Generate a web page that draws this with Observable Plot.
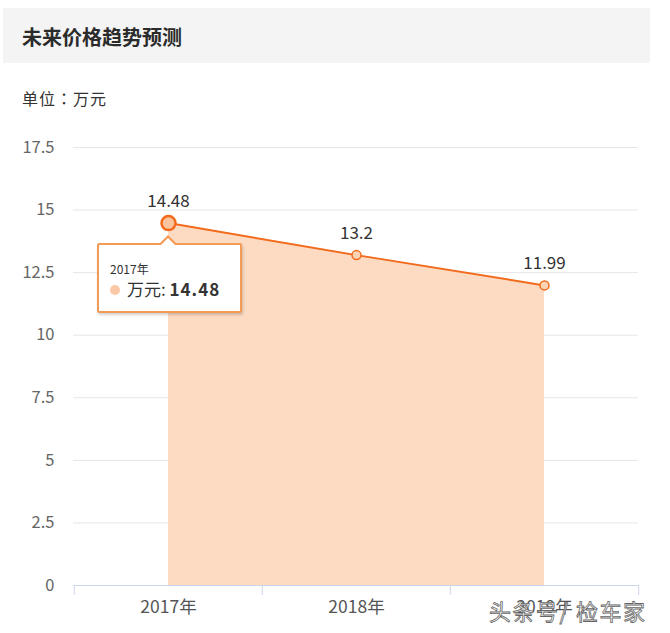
<!DOCTYPE html>
<html>
<head>
<meta charset="utf-8">
<script src="https://cdn.jsdelivr.net/npm/d3@7"></script>
<script src="https://cdn.jsdelivr.net/npm/@observablehq/plot@0.6"></script>
<style>
  html, body { margin: 0; padding: 0; background: #fff; }
  body { width: 670px; height: 633px; overflow: hidden; font-family: "Noto Sans CJK SC", "Noto Sans", sans-serif; }
  #wrap { position: relative; width: 670px; height: 633px; }
  #titlebar { position: absolute; left: 3px; top: 8px; width: 647px; height: 55px; background: #f4f4f4; }
  #title { position: absolute; left: 22px; top: 23px; font-size: 20px; font-weight: bold; color: #2b2b2b; line-height: 28px; }
  #unit { position: absolute; left: 22px; top: 86px; font-size: 16px; color: #333; line-height: 24px; white-space: pre; font-family: "Noto Sans CJK TC", "Noto Sans CJK SC", sans-serif; letter-spacing: 1px; }
  #chart { position: absolute; left: 0; top: 120px; }
  #tip { position: absolute; background: #fff; border: 2px solid #f39a55; border-radius: 2px; box-shadow: 1px 2px 3px rgba(0,0,0,0.18); width: 145px; height: 70px; box-sizing: border-box; }
  #tip .arrow { position: absolute; top: -10px; width: 0; height: 0; border-left: 9px solid transparent; border-right: 9px solid transparent; border-bottom: 9px solid #f39a55; }
  #tip .arrow2 { position: absolute; top: -7px; width: 0; height: 0; border-left: 7px solid transparent; border-right: 7px solid transparent; border-bottom: 7px solid #fff; }
  #tip .cat { position: absolute; left: 11px; top: 16px; font-size: 12px; color: #333; line-height: 16px; }
  #tip .row { position: absolute; left: 11px; top: 33px; font-size: 17px; color: #333; white-space: nowrap; line-height: 22px; }
  #tip .row b { letter-spacing: 1px; }
  #tip .dot { display: inline-block; width: 10px; height: 10px; border-radius: 5px; background: #fbc7a5; margin-right: 7px; vertical-align: 1px; }
  #watermark { position: absolute; left: 489px; top: 595px; font-size: 22px; color: #fff; -webkit-text-stroke: 0.8px #666; letter-spacing: 1.5px; white-space: nowrap; line-height: 30px; }
</style>
</head>
<body>
<div id="wrap">
  <div id="titlebar"></div>
  <div id="title">未来价格趋势预测</div>
  <div id="unit">单位：万元</div>
  <div id="chart"></div>
</div>
<script>
const years = ["2017年", "2018年", "2019年"];
const prices = [14.48, 13.2, 11.99];
const yTicks = [0, 2.5, 5, 7.5, 10, 12.5, 15, 17.5];
const seriesName = "万元";
const watermarkText = "头条号/ 检车家";

const data = years.map((y, i) => ({year: y, price: prices[i]}));

const orange = "#f26b1d";
const chart = Plot.plot({
  width: 670,
  height: 513,
  marginTop: 27,
  marginBottom: 48,
  marginLeft: 73,
  marginRight: 32,
  style: {fontFamily: "'Noto Sans CJK SC', sans-serif", background: "transparent"},
  x: {type: "band", domain: years, padding: 0, axis: null},
  y: {domain: [0, 17.5], axis: null},
  marks: [
    Plot.gridY(yTicks, {stroke: "#e6e6e6", strokeOpacity: 1}),
    Plot.areaY(data, {x: "year", y: "price", fill: "#fddbc2", fillOpacity: 1}),
    Plot.lineY(data, {x: "year", y: "price", stroke: orange, strokeWidth: 2}),
    Plot.ruleY([0], {stroke: "#ccd6eb"}),
    Plot.ruleX(years, {x: d => d, y1: 0, y2: -0.4, stroke: "#ccd6eb", dx: -94.2}),
    Plot.ruleX([years[years.length - 1]], {x: d => d, y1: 0, y2: -0.4, stroke: "#ccd6eb", dx: 94.2}),
    Plot.dot(data.slice(1), {x: "year", y: "price", r: 4.5, fill: "#fdd3b5", stroke: orange, strokeWidth: 1.5}),
    Plot.dot(data.slice(0, 1), {x: "year", y: "price", r: 7, fill: "#fbc49e", stroke: orange, strokeWidth: 2.5}),
    Plot.text(data, {x: "year", y: "price", text: d => String(d.price), dy: -22, fontSize: 17, fill: "#333", style: "letter-spacing:2px"}),
    Plot.text(yTicks, {x: () => years[0], y: d => d, text: d => String(d), textAnchor: "end", dx: -114, fontSize: 16.5, fill: "#666", style: "letter-spacing:1.5px"}),
    Plot.text(years, {x: d => d, y: 0, text: d => d, dy: 22, fontSize: 17.5, fill: "#555", style: "letter-spacing:1px"})
  ]
});
document.getElementById("chart").appendChild(chart);

// tooltip anchored via the chart's scales
const xs = chart.scale("x"), ys = chart.scale("y");
const cx = xs.apply(data[0].year) + (xs.bandwidth || 0) / 2;
const cy = ys.apply(data[0].price) + 120;
const tip = document.createElement("div");
tip.id = "tip";
tip.style.left = (cx - 71) + "px";
tip.style.top = (cy + 20) + "px";
tip.innerHTML = `<div class="arrow" style="left:${69 - 9}px"></div><div class="arrow2" style="left:${69 - 7}px"></div>
<div class="cat">${data[0].year}</div>
<div class="row"><span class="dot"></span>${seriesName}: <b>${data[0].price}</b></div>`;
document.getElementById("wrap").appendChild(tip);

const wm = document.createElement("div");
wm.id = "watermark";
wm.textContent = watermarkText;
document.getElementById("wrap").appendChild(wm);
</script>
</body>
</html>
